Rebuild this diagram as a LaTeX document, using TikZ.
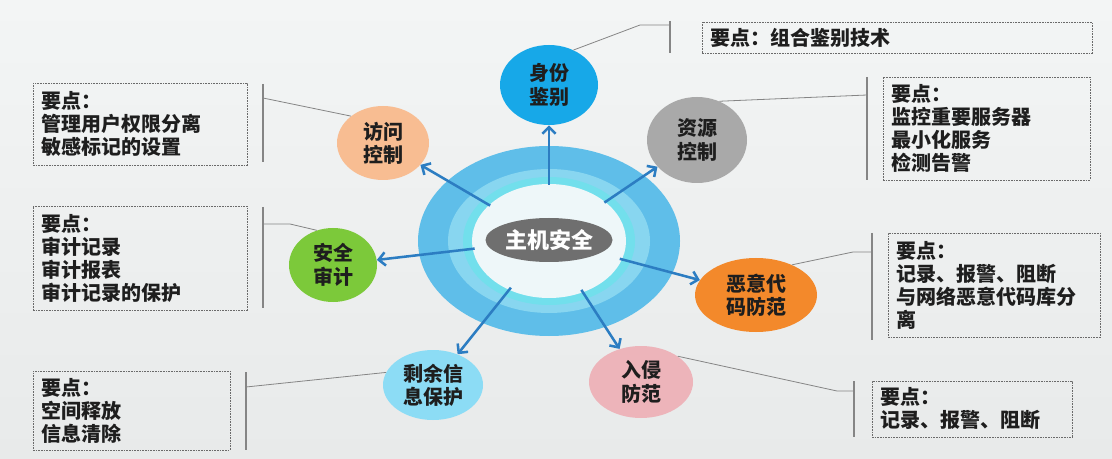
\documentclass[tikz,border=0pt]{standalone}
\usepackage{fontspec}
\newfontfamily\cjk{Noto Sans CJK SC}
\usetikzlibrary{arrows.meta,shapes.geometric}
\definecolor{bgtop}{HTML}{F3F5F5}
\definecolor{bgbot}{HTML}{E8EAEA}
\definecolor{ringa}{HTML}{5FBEE9}
\definecolor{ringb}{HTML}{88D6F0}
\definecolor{ringc}{HTML}{72DFEC}
\definecolor{ringd}{HTML}{EEF7F9}
\definecolor{mainc}{HTML}{6F6F6F}
\definecolor{idc}{HTML}{17A8E8}
\definecolor{accc}{HTML}{F8BD92}
\definecolor{resc}{HTML}{A9A9A9}
\definecolor{audc}{HTML}{7CC93A}
\definecolor{malc}{HTML}{F3892B}
\definecolor{remc}{HTML}{8CDCF5}
\definecolor{intc}{HTML}{EDB4BA}
\definecolor{arrc}{HTML}{2C7DC2}
\definecolor{leadc}{HTML}{858585}
\definecolor{boxc}{HTML}{6A6A6A}
\definecolor{txt}{HTML}{1E1E1E}
\begin{document}
\begin{tikzpicture}[x=0.75pt,y=-0.75pt,
  sat/.style={ellipse,inner sep=0pt,font=\cjk\bfseries\fontsize{15}{17.5}\selectfont,text=txt,align=center},
  notebox/.style={draw=boxc,dash pattern=on 1.2pt off 0.8pt,line width=0.6pt,inner xsep=6.5pt,inner ysep=0pt,align=left,text=txt,font=\cjk\bfseries\fontsize{15}{17.25}\selectfont},
  arr/.style={draw=arrc,line width=1.9pt,-{Straight Barb[length=5pt,width=10pt,line width=1.9pt]}},
  lead/.style={draw=leadc,line width=0.6pt},
  bar/.style={draw=leadc,line width=0.8pt}]
\useasboundingbox (0,0) rectangle (1112,459);
\shade[top color=bgtop,bottom color=bgbot] (0,0) rectangle (1112,459);

% rings
\fill[ringa] (549,241) ellipse [x radius=98.25pt, y radius=71.25pt];
\fill[ringb] (549,241) ellipse [x radius=75.75pt, y radius=54pt];
\fill[ringc] (549,241) ellipse [x radius=64.5pt, y radius=48pt];
\fill[ringd] (549,241) ellipse [x radius=57.75pt, y radius=42.75pt];

\node[ellipse,minimum width=112.5pt,minimum height=82.5pt,inner sep=0pt] (hub) at (549,240) {};
\node[ellipse,fill=mainc,minimum width=95.25pt,minimum height=33pt,inner sep=0pt,text=white,font=\cjk\bfseries\fontsize{16.5}{18}\selectfont] (main) at (549,240) {主机安全};

% satellites
\node[sat,fill=idc,minimum width=73.5pt,minimum height=60pt] (id) at (549,85) {身份\\鉴别};
\node[sat,fill=accc,minimum width=69pt,minimum height=55.5pt] (acc) at (383,143) {访问\\控制};
\node[sat,fill=resc,minimum width=75pt,minimum height=64.5pt] (res) at (697,140) {资源\\控制};
\node[sat,fill=audc,minimum width=66pt,minimum height=55.5pt] (aud) at (333,265) {安全\\审计};
\node[sat,fill=malc,minimum width=91.5pt,minimum height=55.5pt] (mal) at (756,295) {恶意代\\码防范};
\node[sat,fill=remc,minimum width=75pt,minimum height=52.5pt] (rem) at (433,385) {剩余信\\息保护};
\node[sat,fill=intc,minimum width=78pt,minimum height=54pt] (int) at (641,382) {入侵\\防范};

% arrows
\foreach \t in {id,acc,res,aud,mal,rem,int} \draw[arr] (hub) -- (\t);

% note boxes
\node[notebox,minimum width=292.5pt,minimum height=23.25pt,text width=279.5pt] (bid) at (897,37.5) {要点：组合鉴别技术};
\node[notebox,minimum width=160.5pt,minimum height=61.5pt,text width=147.5pt] (bacc) at (140,124) {要点：\\管理用户权限分离\\敏感标记的设置};
\node[notebox,minimum width=155.25pt,minimum height=77.25pt,text width=142.25pt] (bres) at (986.5,128.5) {要点：\\监控重要服务器\\最小化服务\\检测告警};
\node[notebox,minimum width=160.5pt,minimum height=78pt,text width=147.5pt] (baud) at (140,258) {要点：\\审计记录\\审计报表\\审计记录的保护};
\node[notebox,minimum width=159pt,minimum height=78pt,text width=146pt] (bmal) at (994,285) {要点：\\记录、报警、阻断\\与网络恶意代码库分\\离};
\node[notebox,minimum width=147.75pt,minimum height=59.25pt,text width=134.75pt] (brem) at (131.5,410.5) {要点：\\空间释放\\信息清除};
\node[notebox,minimum width=150pt,minimum height=42pt,text width=137pt] (bint) at (972,409) {要点：\\记录、报警、阻断};

% bars
\coordinate (idt) at (670,21); \coordinate (idb) at (670,53);
\coordinate (rest) at (867,77); \coordinate (resb) at (867,180);
\coordinate (acct) at (263,84); \coordinate (accb) at (263,162);
\coordinate (audt) at (263,207); \coordinate (audb) at (263,308);
\coordinate (malt) at (872,233); \coordinate (malb) at (872,340);
\coordinate (remt) at (246,372); \coordinate (remb) at (246,450);
\coordinate (intt) at (854,381); \coordinate (intb) at (854,437);
\foreach \b in {id,res,acc,aud,mal,rem,int} \draw[bar] (\b t) -- (\b b);

% leader lines
\coordinate (idl) at (670,25);
\coordinate (resl) at (867,95);
\coordinate (accl) at (263,98);
\coordinate (audl) at (263,224);
\coordinate (mall) at (872,252);
\coordinate (reml) at (246,387);
\coordinate (intl) at (854,391);
\draw[lead] (id.55) -- (640,25) -- (idl);
\draw[lead] (res.60) -- (resl);
\draw[lead] (acc.140) -- (accl);
\draw[lead] (aud.115) -- (290,224) -- (audl);
\draw[lead] (mal.40) -- (853,252) -- (mall);
\draw[lead] (rem.165) -- (reml);
\draw[lead] (int.35) -- (837,391) -- (intl);
\end{tikzpicture}
\end{document}
